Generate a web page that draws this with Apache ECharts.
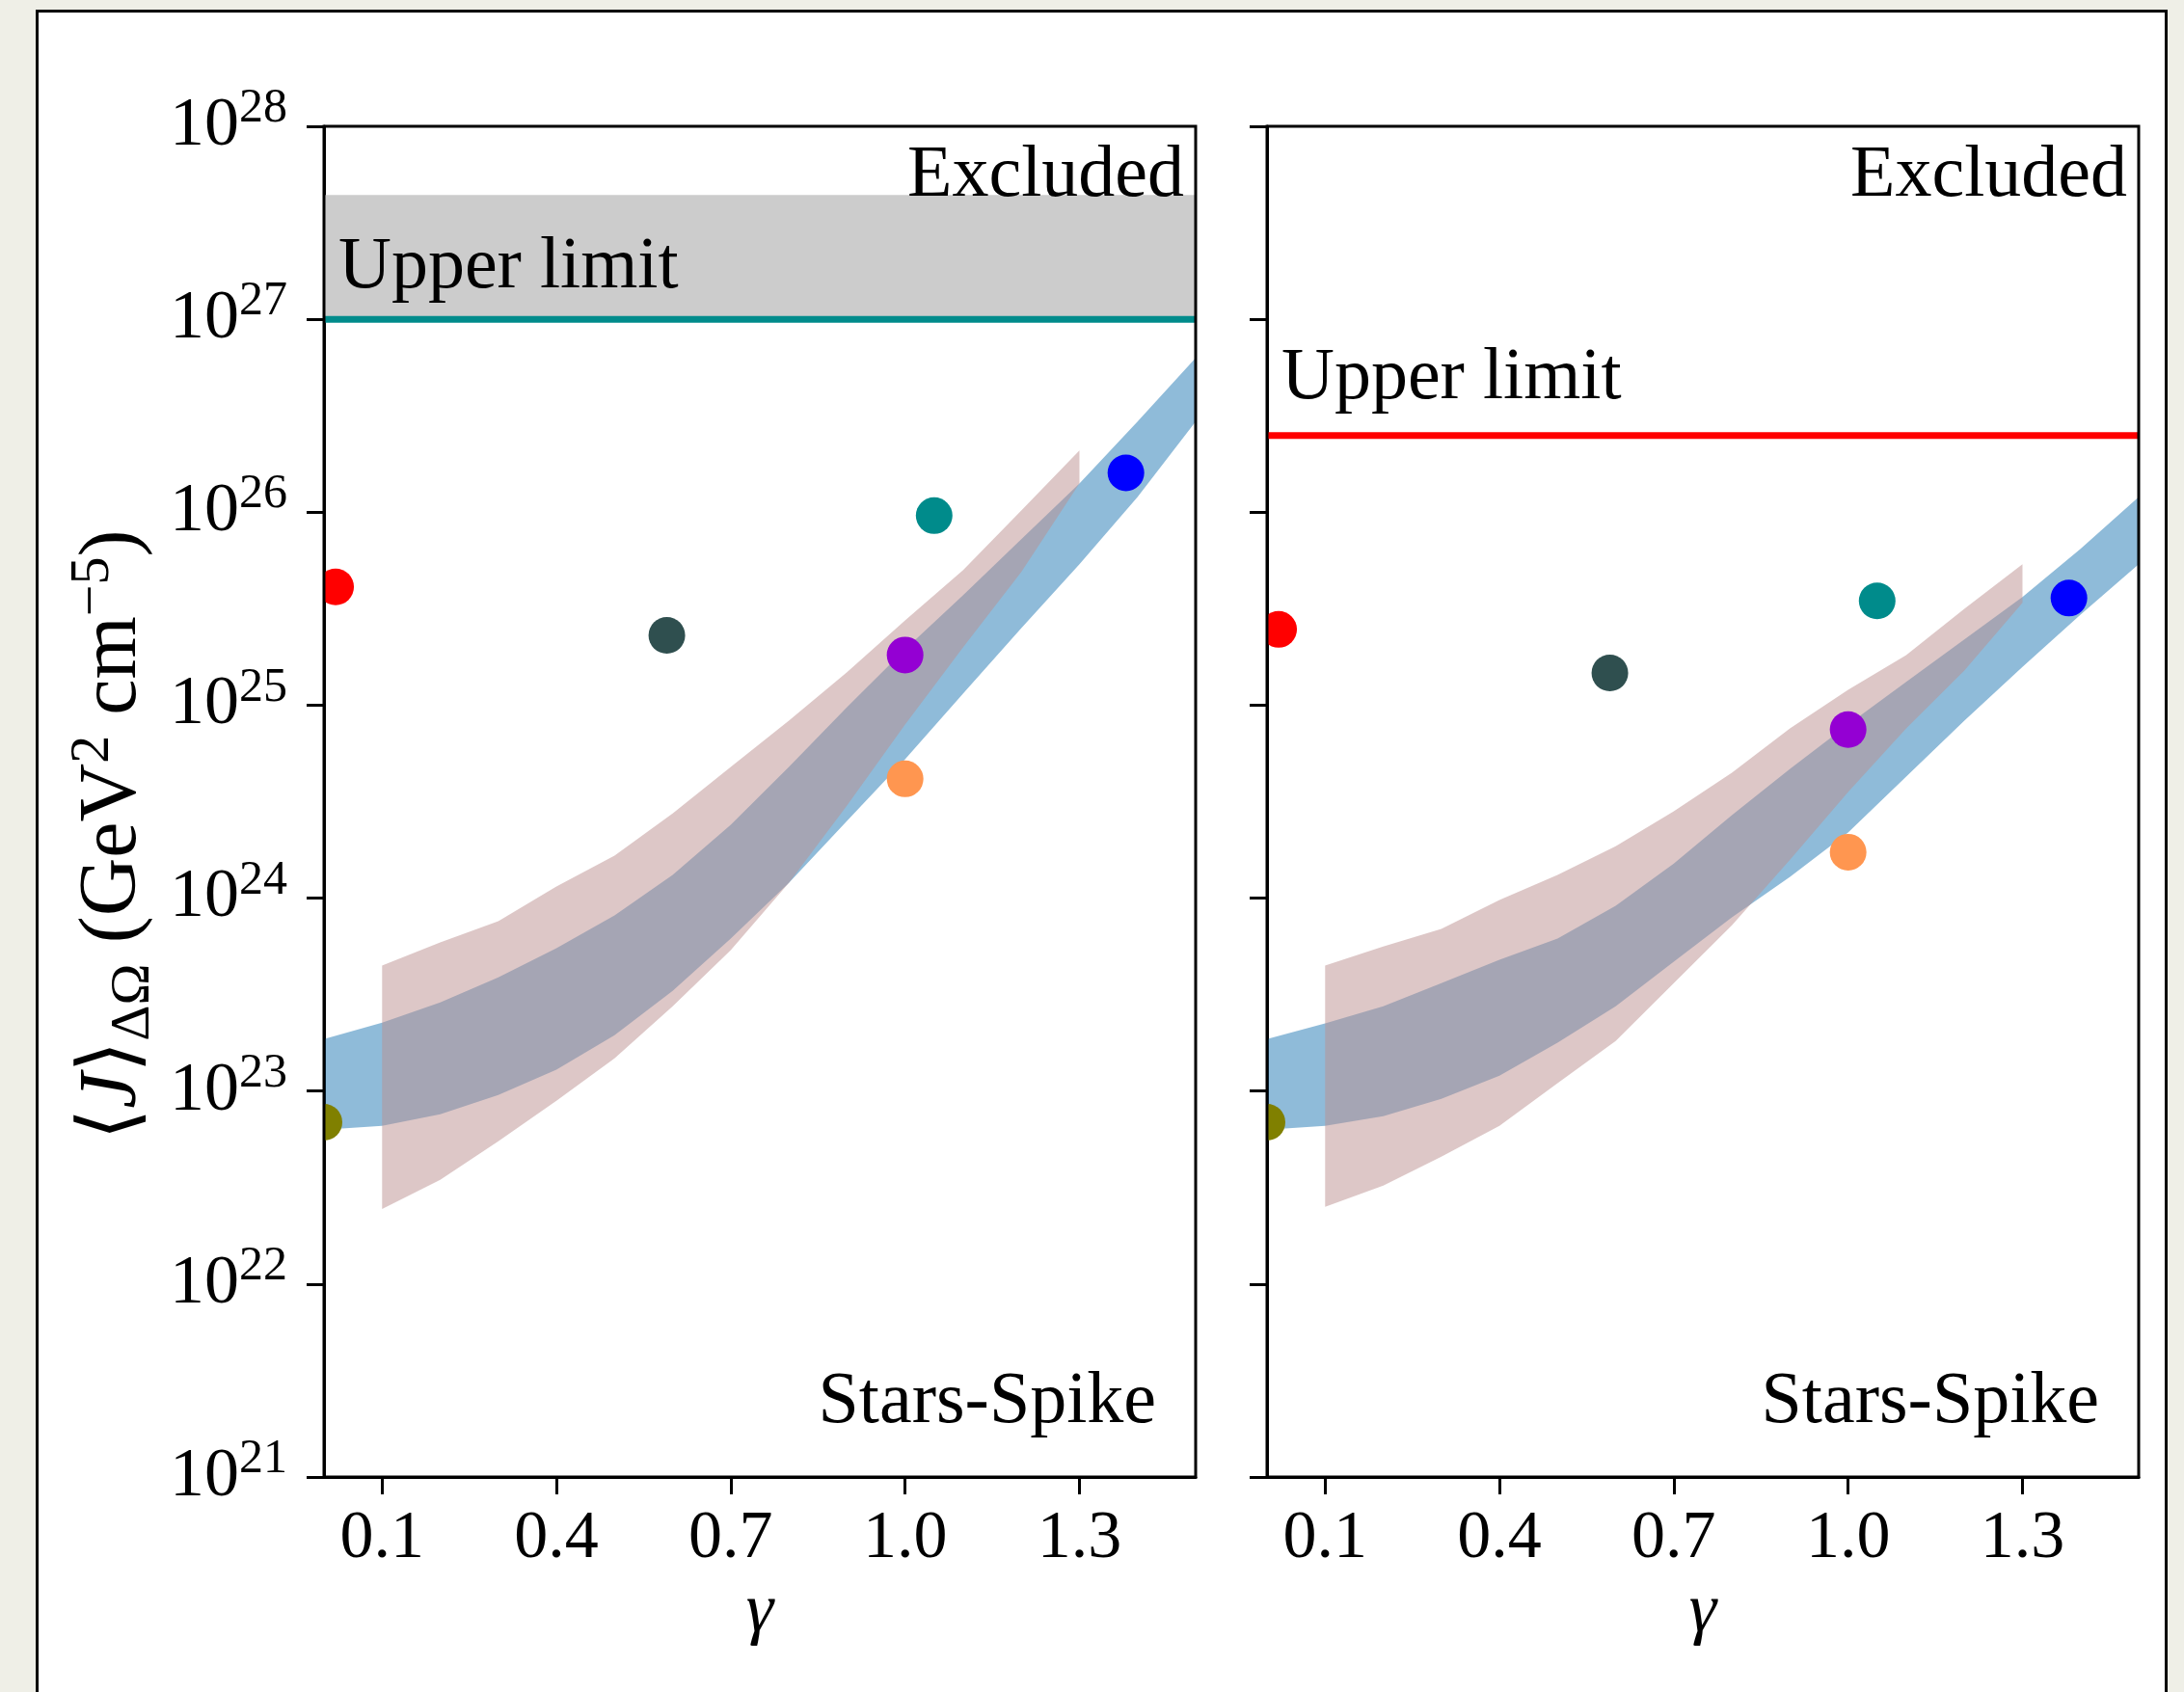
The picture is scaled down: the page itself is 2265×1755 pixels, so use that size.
<!DOCTYPE html>
<html>
<head>
<meta charset="utf-8">
<script src="https://cdn.jsdelivr.net/npm/echarts@6/dist/echarts.min.js"></script>
<style>
  html, body { margin: 0; padding: 0; background: #efefe7; }
  #frame { position: absolute; left: 37px; top: 10px; width: 2211px; height: 1800px;
           background: #ffffff; border: 3px solid #000; box-sizing: border-box; }
  #chart { position: absolute; left: 0; top: 0; width: 2265px; height: 1755px; }
</style>
</head>
<body>
<div id="frame"></div>
<div id="chart"></div>
<script>
// ---------------- data ----------------
const xTicks = [0.1, 0.4, 0.7, 1.0, 1.3];

// blue band (smooth), gamma grid
const blueGamma = [0, 0.1, 0.2, 0.3, 0.4, 0.5, 0.6, 0.7, 0.8, 0.9, 1.0, 1.1, 1.2, 1.3, 1.4, 1.5];
const blueUpperLeft = [1.86e23, 2.26e23, 2.88e23, 3.89e23, 5.50e23, 8.13e23, 1.32e24, 2.40e24, 4.79e24, 9.77e24, 1.95e25, 3.72e25, 7.24e25, 1.41e26, 2.95e26, 6.31e26];
const blueLowerLeft = [6.31e22, 6.61e22, 7.59e22, 9.55e22, 1.29e23, 1.95e23, 3.31e23, 6.17e23, 1.20e24, 2.51e24, 5.25e24, 1.15e25, 2.51e25, 5.37e25, 1.20e26, 2.95e26];
const blueUpperRight = [1.86e23, 2.24e23, 2.75e23, 3.63e23, 4.79e23, 6.17e23, 9.12e23, 1.51e24, 2.69e24, 4.68e24, 7.94e24, 1.32e25, 2.19e25, 3.63e25, 6.46e25, 1.20e26];
const blueLowerRight = [6.31e22, 6.61e22, 7.41e22, 9.12e22, 1.20e23, 1.78e23, 2.75e23, 4.68e23, 7.94e23, 1.29e24, 2.19e24, 4.27e24, 8.32e24, 1.58e25, 2.95e25, 5.37e25];

// rosy band
const pinkGamma = [0.1, 0.2, 0.3, 0.4, 0.5, 0.6, 0.7, 0.8, 0.9, 1.0, 1.1, 1.2, 1.3];
const pinkUpperLeft = [4.47e23, 5.89e23, 7.59e23, 1.15e24, 1.66e24, 2.75e24, 4.79e24, 8.32e24, 1.48e25, 2.75e25, 5.01e25, 1.02e26, 2.09e26];
const pinkLowerLeft = [2.45e22, 3.47e22, 5.50e22, 8.91e22, 1.48e23, 2.75e23, 5.37e23, 1.20e24, 3.02e24, 7.94e24, 2.00e25, 4.90e25, 1.41e26];
const pinkUpperRight = [4.47e23, 5.62e23, 6.92e23, 9.77e23, 1.32e24, 1.86e24, 2.82e24, 4.47e24, 7.59e24, 1.20e25, 1.82e25, 3.16e25, 5.37e25];
const pinkLowerRight = [2.51e22, 3.24e22, 4.57e22, 6.61e22, 1.10e23, 1.82e23, 3.63e23, 7.24e23, 1.58e24, 3.55e24, 7.59e24, 1.51e25, 3.39e25];

// points
const pointColors = ['#ff0000', '#808000', '#2f4f4f', '#008b8b', '#9400d3', '#ff9650', '#0000ff'];
const pointGammaLeft = [0.02, 0.0, 0.59, 1.05, 1.0, 1.0, 1.38];
const pointJLeft = [4.1e25, 6.9e22, 2.3e25, 9.6e25, 1.82e25, 4.15e24, 1.6e26];
const pointGammaRight = [0.02, 0.0, 0.59, 1.05, 1.0, 1.0, 1.38];
const pointJRight = [2.47e25, 6.9e22, 1.47e25, 3.47e25, 7.47e24, 1.73e24, 3.59e25];

// limits
const upperLimitLeft = 1e27;
const excludedTopLeft = 4.4e27;
const upperLimitRight = 2.5e26;

// ---------------- chart ----------------
const F = "'Liberation Serif', 'DejaVu Serif', serif";
const chart = echarts.init(document.getElementById('chart'), null, { renderer: 'canvas' });

function xAxisDef(idx) {
  return {
    type: 'value', gridIndex: idx, min: 0, max: 1.5,
    name: 'γ', nameLocation: 'middle', nameGap: 95,
    nameTextStyle: { fontFamily: F, fontSize: 72, fontStyle: 'italic', color: '#000' },
    axisLine: { show: true, onZero: false, lineStyle: { color: '#000', width: 3 } },
    axisTick: { show: true, inside: false, length: 18, lineStyle: { color: '#000', width: 3 }, customValues: xTicks },
    axisLabel: { show: true, margin: 30, customValues: xTicks, formatter: v => v.toFixed(1),
                 fontFamily: F, fontSize: 70, color: '#000' },
    splitLine: { show: false }
  };
}
function yAxisDef(idx, showLabels) {
  return {
    type: 'log', gridIndex: idx, logBase: 10, min: 1e21, max: 1e28, interval: 1,
    axisLine: { show: true, onZero: false, lineStyle: { color: '#000', width: 3 } },
    axisTick: { show: true, inside: false, length: 18, lineStyle: { color: '#000', width: 3 } },
    minorTick: { show: false },
    axisLabel: {
      show: showLabels, margin: 38,
      formatter: v => '{b|10}{s|' + Math.round(Math.log10(v)) + '}',
      rich: {
        b: { fontFamily: F, fontSize: 72, lineHeight: 86, verticalAlign: 'middle', color: '#000' },
        s: { fontFamily: F, fontSize: 50, lineHeight: 50, verticalAlign: 'top', color: '#000' }
      }
    },
    splitLine: { show: false }
  };
}

function bandSeries(idx, gammas, upper, lower, color, z) {
  return {
    type: 'custom', xAxisIndex: idx, yAxisIndex: idx, clip: true, silent: true, z: z,
    data: gammas.map((g, i) => [g, lower[i], upper[i]]),
    encode: { x: 0, y: [1, 2] },
    renderItem: (params, api) => {
      if (params.dataIndex !== 0) return null;
      const pts = [];
      for (let i = 0; i < gammas.length; i++) pts.push(api.coord([gammas[i], upper[i]]));
      for (let i = gammas.length - 1; i >= 0; i--) pts.push(api.coord([gammas[i], lower[i]]));
      return { type: 'polygon', shape: { points: pts }, style: { fill: color } };
    }
  };
}
function hBandSeries(idx, lo, hi, color, z) {
  return {
    type: 'custom', xAxisIndex: idx, yAxisIndex: idx, clip: true, silent: true, z: z,
    data: [[0, lo, hi]], encode: { x: 0, y: [1, 2] },
    renderItem: (params, api) => {
      const cs = params.coordSys;
      const yTop = api.coord([0, hi])[1], yBot = api.coord([0, lo])[1];
      return { type: 'rect', shape: { x: cs.x, y: yTop, width: cs.width, height: yBot - yTop }, style: { fill: color } };
    }
  };
}
function hLineSeries(idx, val, color, width, z) {
  return {
    type: 'custom', xAxisIndex: idx, yAxisIndex: idx, clip: true, silent: true, z: z,
    data: [[0, val]], encode: { x: 0, y: 1 },
    renderItem: (params, api) => {
      const cs = params.coordSys;
      const y = api.coord([0, val])[1];
      return { type: 'line', shape: { x1: cs.x, y1: y, x2: cs.x + cs.width, y2: y },
               style: { stroke: color, lineWidth: width } };
    }
  };
}
function pointSeries(idx, gammas, vals, z) {
  return {
    type: 'custom', xAxisIndex: idx, yAxisIndex: idx, clip: true, silent: true, z: z,
    data: gammas.map((g, i) => [g, vals[i]]), encode: { x: 0, y: 1 },
    renderItem: (params, api) => {
      const p = api.coord([api.value(0), api.value(1)]);
      return { type: 'circle', shape: { cx: p[0], cy: p[1], r: 19 },
               style: { fill: pointColors[params.dataIndex] } };
    }
  };
}

const gridCommon = { top: 131, height: 1401, width: 904, show: true, borderColor: '#000', borderWidth: 3, backgroundColor: 'transparent', z: 10 };

const option = {
  backgroundColor: 'transparent',
  animation: false,
  grid: [
    Object.assign({ left: 336 }, gridCommon),
    Object.assign({ left: 1314 }, gridCommon)
  ],
  xAxis: [xAxisDef(0), xAxisDef(1)],
  yAxis: [yAxisDef(0, true), yAxisDef(1, false)],
  series: [
    hBandSeries(0, upperLimitLeft, excludedTopLeft, '#cccccc', 1),
    hLineSeries(0, upperLimitLeft, '#008b8b', 7, 2),
    bandSeries(0, blueGamma, blueUpperLeft, blueLowerLeft, 'rgba(31,119,180,0.5)', 3),
    bandSeries(0, pinkGamma, pinkUpperLeft, pinkLowerLeft, 'rgba(188,143,143,0.5)', 4),
    pointSeries(0, pointGammaLeft, pointJLeft, 5),
    hLineSeries(1, upperLimitRight, '#ff0000', 7, 2),
    bandSeries(1, blueGamma, blueUpperRight, blueLowerRight, 'rgba(31,119,180,0.5)', 3),
    bandSeries(1, pinkGamma, pinkUpperRight, pinkLowerRight, 'rgba(188,143,143,0.5)', 4),
    pointSeries(1, pointGammaRight, pointJRight, 5)
  ],
  graphic: [
    { type: 'text', x: 1228, y: 183, z: 20, style: { text: 'Excluded', fontFamily: F, fontSize: 76, fill: '#000', align: 'right', verticalAlign: 'middle' } },
    { type: 'text', x: 2206, y: 183, z: 20, style: { text: 'Excluded', fontFamily: F, fontSize: 76, fill: '#000', align: 'right', verticalAlign: 'middle' } },
    { type: 'text', x: 351, y: 278, z: 20, style: { text: 'Upper limit', fontFamily: F, fontSize: 76, fill: '#000', align: 'left', verticalAlign: 'middle' } },
    { type: 'text', x: 1329, y: 393, z: 20, style: { text: 'Upper limit', fontFamily: F, fontSize: 76, fill: '#000', align: 'left', verticalAlign: 'middle' } },
    { type: 'text', x: 1199, y: 1455, z: 20, style: { text: 'Stars-Spike', fontFamily: F, fontSize: 76, fill: '#000', align: 'right', verticalAlign: 'middle' } },
    { type: 'text', x: 2177, y: 1455, z: 20, style: { text: 'Stars-Spike', fontFamily: F, fontSize: 76, fill: '#000', align: 'right', verticalAlign: 'middle' } },
    { type: 'text', x: 118, y: 866, rotation: Math.PI / 2, z: 20,
      style: {
        text: '{n|⟨}{i|J}{n|⟩}{sub|ΔΩ}{n| (GeV}{sup|2}{n| cm}{sup|−5}{n|)}',
        align: 'center', verticalAlign: 'middle', fill: '#000',
        rich: {
          n: { fontFamily: F, fontSize: 84, lineHeight: 100, verticalAlign: 'middle', fill: '#000' },
          i: { fontFamily: F, fontSize: 84, lineHeight: 100, fontStyle: 'italic', verticalAlign: 'middle', fill: '#000' },
          sup: { fontFamily: F, fontSize: 58, lineHeight: 56, verticalAlign: 'top', fill: '#000' },
          sub: { fontFamily: F, fontSize: 58, lineHeight: 56, verticalAlign: 'bottom', fill: '#000' }
        }
      }
    }
  ]
};
chart.setOption(option);
</script>
</body>
</html>
